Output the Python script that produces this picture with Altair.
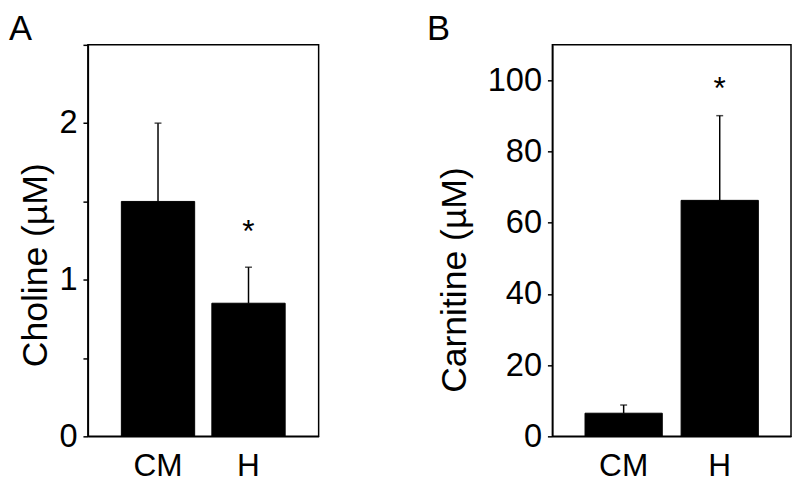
import altair as alt
import pandas as pd

FONT = "Liberation Sans"

groups = ["CM", "H"]
panel_letters = ["A", "B"]

choline_mean = [1.50, 0.85]
choline_err = [0.50, 0.23]
choline_ticks = [0, 0.5, 1, 1.5, 2, 2.5]
choline_star = [1.35]

carnitine_mean = [6.5, 66.3]
carnitine_err = [2.3, 23.8]
carnitine_ticks = [0, 10, 20, 30, 40, 50, 60, 70, 80, 90, 100, 110]
carnitine_star = [99.4]

star_groups = ["H"]


def panel(letter, means, errs, ticks, label_step, ymax, title, star_vals,
          width, pad_inner, pad_outer, title_x, title_y, letter_x):
    df = pd.DataFrame({
        "group": groups,
        "mean": means,
        "upper": [m + e for m, e in zip(means, errs)],
    })
    stars = pd.DataFrame({"group": star_groups, "y": star_vals, "t": ["*"]})
    lab = pd.DataFrame({"letter": [letter]})

    xscale = alt.Scale(domain=groups, paddingInner=pad_inner, paddingOuter=pad_outer)
    yscale = alt.Scale(domain=[0, ymax], nice=False, zero=True)

    x = alt.X("group:N", scale=xscale, sort=groups,
              axis=alt.Axis(title=None, labelAngle=0, ticks=False, tickSize=0,
                            labelPadding=15, labelFontSize=32, labelFont=FONT,
                            labelColor="black", domainColor="black", domainWidth=1.5))
    y = alt.Y("mean:Q", scale=yscale,
              axis=alt.Axis(values=ticks, format=".1~f",
                            labelExpr=f"datum.value % {label_step} == 0 ? datum.label : ''",
                            labelOverlap=False, grid=False,
                            tickSize=5, tickColor="black", tickWidth=1.5,
                            labelPadding=6, labelFontSize=33, labelFont=FONT,
                            labelColor="black", domainColor="black", domainWidth=1.5,
                            title=title, titleFont=FONT, titleFontSize=36,
                            titleFontWeight="normal", titleColor="black",
                            titleAngle=-90, titleAlign="center", titleBaseline="bottom",
                            titleX=title_x, titleY=title_y))

    bars = alt.Chart(df).mark_bar(color="black", stroke="black", strokeWidth=1).encode(x=x, y=y)
    err = alt.Chart(df).mark_rule(color="black", strokeWidth=1.5).encode(
        x=alt.X("group:N", scale=xscale, sort=groups),
        y=alt.Y("mean:Q", scale=yscale),
        y2="upper:Q",
    )
    cap = alt.Chart(df).mark_tick(color="black", thickness=1.5, size=7).encode(
        x=alt.X("group:N", scale=xscale, sort=groups),
        y=alt.Y("upper:Q", scale=yscale),
    )
    star = alt.Chart(stars).mark_text(fontSize=32, font=FONT, baseline="middle",
                                      dy=7, color="black").encode(
        x=alt.X("group:N", scale=xscale, sort=groups),
        y=alt.Y("y:Q", scale=yscale),
        text="t:N",
    )
    letter_mark = alt.Chart(lab).mark_text(fontSize=35, font=FONT, align="left",
                                           baseline="alphabetic", color="black").encode(
        x=alt.value(letter_x), y=alt.value(-5), text="letter:N"
    )
    return alt.layer(bars, err, cap, star, letter_mark).properties(width=width, height=397)


a = panel("A", choline_mean, choline_err, choline_ticks, 1, 2.5, "Choline (µM)",
          choline_star, 234, 0.19, 0.37, -34, 223, -80)
b = panel("B", carnitine_mean, carnitine_err, carnitine_ticks, 20, 110, "Carnitine (µM)",
          carnitine_star, 242, 0.196, 0.34, -80, 238, -127)

chart = alt.hconcat(a, b, spacing=108).properties(
    padding={"left": 0, "top": 0, "right": 0, "bottom": 0}
).configure(background="white").configure_view(stroke="black", strokeWidth=1.5)

chart.save("out.html", embed_options={"renderer": "svg", "actions": False})
